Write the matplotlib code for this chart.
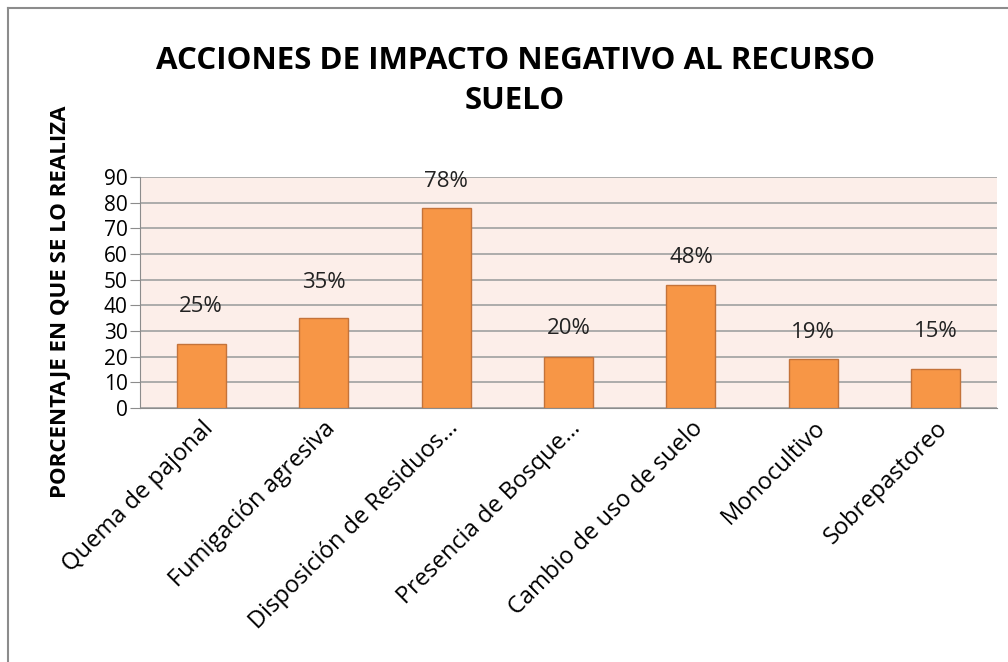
import matplotlib
matplotlib.use('Agg')
import matplotlib.pyplot as plt
from matplotlib.lines import Line2D

plt.rcParams['font.family'] = ['Open Sans', 'DejaVu Sans']

categorias = ['Quema de pajonal', 'Fumigación agresiva', 'Disposición de Residuos…',
              'Presencia de Bosque…', 'Cambio de uso de suelo', 'Monocultivo', 'Sobrepastoreo']
valores = [25, 35, 78, 20, 48, 19, 15]
etiquetas = ['25%', '35%', '78%', '20%', '48%', '19%', '15%']
# distancia (pt) entre el tope de la barra y el centro de la etiqueta
separacion = [27, 26, 19, 20, 20, 19, 27]
yticks = [0, 10, 20, 30, 40, 50, 60, 70, 80, 90]

fig = plt.figure(figsize=(10.08, 6.62), dpi=100)
ax = fig.add_axes([0.1389, 0.3837, 0.8502, 0.3489])
ax.set_facecolor('#FCEEE9')

x = range(len(categorias))
ax.bar(x, valores, width=0.4, color='#F79646', edgecolor='#C4733A', linewidth=1, zorder=3)
for i, (v, t) in enumerate(zip(valores, etiquetas)):
    ax.annotate(t, (i, v), xytext=(0, separacion[i]), textcoords='offset points',
                ha='center', va='center', fontsize=16, color='#222222')

ax.set_xlim(-0.5, len(categorias) - 0.5)
ax.set_ylim(0, 90)
ax.set_yticks(yticks)
ax.yaxis.grid(True, color='#A6A6A6', linewidth=1.3, zorder=0)
ax.set_axisbelow(True)
for s in ['top', 'right']:
    ax.spines[s].set_visible(False)
ax.spines['left'].set_color('#8C8C8C')
ax.spines['bottom'].set_color('#8C8C8C')
ax.tick_params(axis='y', length=7, color='#8C8C8C', labelsize=15, pad=2)
ax.tick_params(axis='x', length=0, labelsize=17, pad=6)
ax.set_xticks(list(x))
ax.set_xticklabels(categorias, rotation=45, ha='right', rotation_mode='anchor')

ax.set_ylabel('PORCENTAJE EN QUE SE LO REALIZA', fontsize=16, fontweight='bold')
ax.yaxis.set_label_coords(-0.08, 0.46)

fig.text(0.511, 0.878, 'ACCIONES DE IMPACTO NEGATIVO AL RECURSO\nSUELO', ha='center', va='center',
         fontsize=22.5, fontweight='bold', linespacing=1.42)

# borde del grafico
fig.add_artist(Line2D([0.008, 0.008], [0, 0.988], color='#8C8C8C', linewidth=1.5))
fig.add_artist(Line2D([0.008, 1.0], [0.988, 0.988], color='#8C8C8C', linewidth=1.5))

fig.savefig('out.png', dpi=100)
